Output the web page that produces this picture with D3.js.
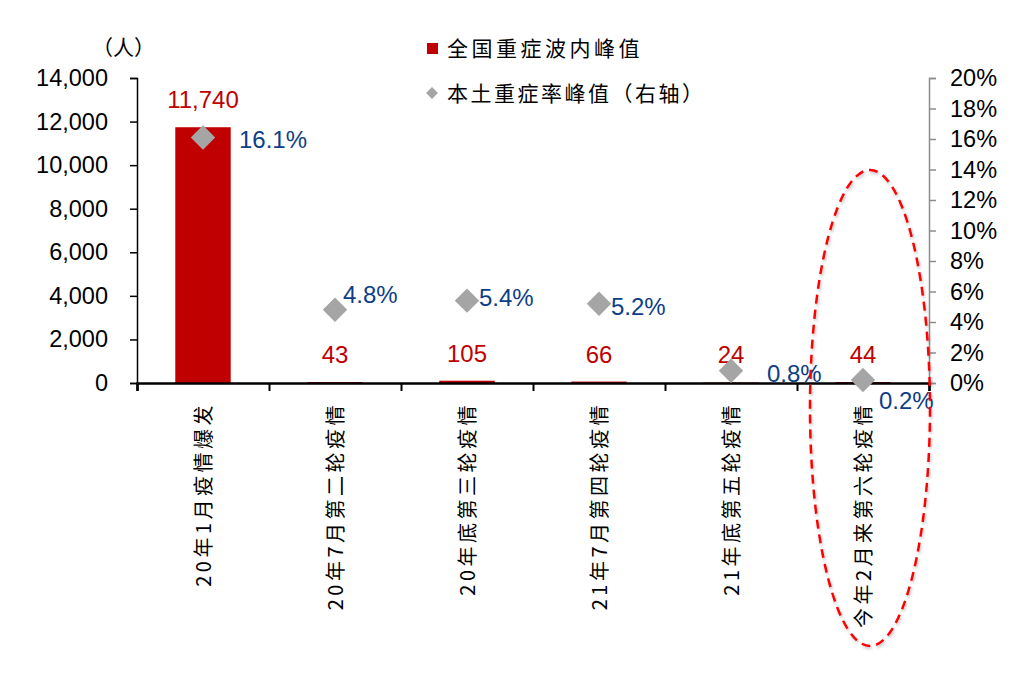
<!DOCTYPE html>
<html>
<head>
<meta charset="utf-8">
<script src="https://cdn.jsdelivr.net/npm/d3@7"></script>
<style>
  body { margin: 0; background: #fff; }
  text { font-family: "Liberation Sans", Arial, sans-serif; }
  .cjk { font-family: "Noto Sans CJK SC", sans-serif; }
</style>
</head>
<body>
<svg id="chart" width="1036" height="692"></svg>
<script>
const categories = ["20年1月疫情爆发", "20年7月第二轮疫情", "20年底第三轮疫情", "21年7月第四轮疫情", "21年底第五轮疫情", "今年2月来第六轮疫情"];
const severePeak = [11740, 43, 105, 66, 24, 44];
const severeRate = [0.161, 0.048, 0.054, 0.052, 0.008, 0.002];
const leftTicks = [0, 2000, 4000, 6000, 8000, 10000, 12000, 14000];
const rightTicks = [0, 0.02, 0.04, 0.06, 0.08, 0.10, 0.12, 0.14, 0.16, 0.18, 0.20];
// where each % label sits relative to its diamond
const rateLabelOffset = [[36, 2], [8, -16], [12, -4], [12, 2], [36, 2], [16, 20]];

const svg = d3.select("#chart");
const margin = { top: 78, right: 107, bottom: 309, left: 137 };
const width = +svg.attr("width") - margin.left - margin.right;
const height = +svg.attr("height") - margin.top - margin.bottom;

const g = svg.append("g").attr("transform", `translate(${margin.left},${margin.top})`);

const x = d3.scaleBand().domain(categories).range([0, width]).paddingInner(0.58).paddingOuter(0.29);
const y = d3.scaleLinear().domain([0, 14000]).range([height, 0]);
const y2 = d3.scaleLinear().domain([0, 0.2]).range([height, 0]);
const cx = d => x(d) + x.bandwidth() / 2;

// left axis
const yAxis = g.append("g")
  .call(d3.axisLeft(y).tickValues(leftTicks).tickSize(7).tickPadding(22).tickFormat(d3.format(",")));
yAxis.selectAll("text").style("font-size", "23.5px").attr("fill", "#000");
yAxis.selectAll("line, path").attr("stroke", "#000").attr("stroke-width", 1.5);

// right axis
const yAxis2 = g.append("g").attr("transform", `translate(${width},0)`)
  .call(d3.axisRight(y2).tickValues(rightTicks).tickSize(7).tickPadding(14).tickFormat(d3.format(".0%")));
yAxis2.selectAll("text").style("font-size", "23.5px").attr("fill", "#000");
yAxis2.selectAll("line, path").attr("stroke", "#8c8c8c").attr("stroke-width", 1.5);

// bars
g.selectAll("rect.bar").data(categories).enter().append("rect")
  .attr("class", "bar")
  .attr("x", d => x(d))
  .attr("width", x.bandwidth())
  .attr("y", (d, i) => y(severePeak[i]))
  .attr("height", (d, i) => height - y(severePeak[i]))
  .attr("fill", "#c00000");

// x axis with boundary ticks
const xb = d3.scaleLinear().domain([0, categories.length]).range([0, width]);
const xAxis = g.append("g").attr("transform", `translate(0,${height})`)
  .call(d3.axisBottom(xb).ticks(categories.length).tickSize(8).tickFormat(""));
xAxis.selectAll("line").attr("stroke", "#000").attr("stroke-width", 2);
xAxis.select(".domain").attr("stroke", "#000").attr("stroke-width", 2.5);

// category labels, rotated
g.selectAll("text.cat").data(categories).enter().append("text")
  .attr("class", "cat cjk")
  .attr("transform", d => `translate(${cx(d) + 8},${height + 19}) rotate(-90)`)
  .attr("text-anchor", "end")
  .style("font-size", "20px")
  .style("letter-spacing", "3.5px")
  .text(d => d);

// bar value labels
g.selectAll("text.val").data(categories).enter().append("text")
  .attr("x", d => cx(d))
  .attr("y", (d, i) => y(severePeak[i]) - 19)
  .attr("text-anchor", "middle")
  .attr("fill", "#c00000")
  .style("font-size", "24px")
  .text((d, i) => d3.format(",")(severePeak[i]));

// diamonds
const sym = d3.symbol().type(d3.symbolDiamond2).size(380);
g.selectAll("path.dia").data(categories).enter().append("path")
  .attr("transform", (d, i) => `translate(${cx(d)},${y2(severeRate[i])})`)
  .attr("d", sym)
  .attr("fill", "#a5a5a5");

// rate labels
g.selectAll("text.rate").data(categories).enter().append("text")
  .attr("x", (d, i) => cx(d) + rateLabelOffset[i][0])
  .attr("y", (d, i) => y2(severeRate[i]) + rateLabelOffset[i][1] + 9)
  .attr("fill", "#0d3e87")
  .style("font-size", "24px")
  .text((d, i) => d3.format(".1%")(severeRate[i]));

// unit
svg.append("text").attr("class", "cjk").attr("x", 92).attr("y", 55)
  .style("font-size", "21px").text("（人）");

// legend
const lg = svg.append("g").attr("transform", "translate(432,48)");
lg.append("rect").attr("x", -5).attr("y", -5).attr("width", 11).attr("height", 11).attr("fill", "#c00000");
lg.append("text").attr("class", "cjk").attr("x", 15).attr("y", 8).style("font-size", "21px").style("letter-spacing", "3.5px").text("全国重症波内峰值");
lg.append("path").attr("transform", "translate(0,45)").attr("d", d3.symbol().type(d3.symbolDiamond2).size(90)).attr("fill", "#a5a5a5");
lg.append("text").attr("class", "cjk").attr("x", 15).attr("y", 53).style("font-size", "21px").style("letter-spacing", "2.5px").text("本土重症率峰值（右轴）");

// highlight ellipse around latest wave
const last = categories[categories.length - 1];
const defs = svg.append("defs");
const f = defs.append("filter").attr("id", "sh").attr("x", "-20%").attr("y", "-20%").attr("width", "140%").attr("height", "140%");
f.append("feDropShadow").attr("dx", 1).attr("dy", 2).attr("stdDeviation", 1.5).attr("flood-color", "#000").attr("flood-opacity", 0.25);
g.append("ellipse")
  .attr("cx", cx(last) + 7)
  .attr("cy", y2(0) + 25)
  .attr("rx", 60)
  .attr("ry", 238)
  .attr("fill", "none")
  .attr("stroke", "#ff0000")
  .attr("stroke-width", 2.5)
  .attr("stroke-dasharray", "9,6")
  .attr("filter", "url(#sh)");
</script>
</body>
</html>
